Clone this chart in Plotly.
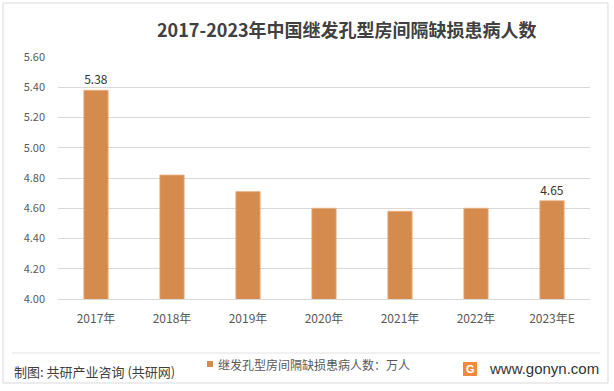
import plotly.graph_objects as go

categories = ["2017年", "2018年", "2019年", "2020年", "2021年", "2022年", "2023年E"]
values = [5.38, 4.82, 4.71, 4.60, 4.58, 4.60, 4.65]
label_text = ["5.38", "", "", "", "", "", "4.65"]
y_ticks = [4.00, 4.20, 4.40, 4.60, 4.80, 5.00, 5.20, 5.40, 5.60]

title = "2017-2023年中国继发孔型房间隔缺损患病人数"
legend_label = "继发孔型房间隔缺损患病人数：万人"
source_text = "制图: 共研产业咨询 (共研网)"
site_text = "www.gonyn.com"

W, H = 614, 391
L, R, T, B = 58, 590, 57, 299
pw, ph = R - L, B - T


def px(x):
    return (x - L) / pw


def py(y):
    return (B - y) / ph


font_family = "Microsoft YaHei, Noto Sans CJK SC, sans-serif"
bar_color = "#D58B4E"

fig = go.Figure()
fig.add_trace(go.Bar(
    x=categories, y=values, width=0.32,
    marker=dict(color=bar_color, line=dict(color="#E8B48A", width=0.8)),
    text=label_text, textposition="outside", cliponaxis=False,
    textfont=dict(size=12, color="#333333", family=font_family),
    showlegend=False,
))

shapes = [
    # outer frame
    dict(type="rect", xref="paper", yref="paper", x0=px(3), x1=px(608), y0=py(3), y1=py(383),
         line=dict(color="#D9D9D9", width=1), layer="below"),
    # separator line
    dict(type="line", xref="paper", yref="paper", x0=px(12), x1=px(600), y0=py(353), y1=py(353),
         line=dict(color="#E3E3E3", width=1)),
    # legend marker
    dict(type="rect", xref="paper", yref="paper", x0=px(207), x1=px(213), y0=py(361), y1=py(367),
         fillcolor=bar_color, line=dict(width=0)),
    # logo
    dict(type="rect", xref="paper", yref="paper", x0=px(463), x1=px(477), y0=py(362), y1=py(376),
         fillcolor="#F08A3C", line=dict(width=0)),
]

annotations = [
    dict(text="<b>" + title + "</b>", xref="paper", yref="paper", x=px(347), y=py(29),
         xanchor="center", yanchor="middle", showarrow=False,
         font=dict(size=18, color="#404040", family=font_family)),
    dict(text=source_text, xref="paper", yref="paper", x=px(12), y=py(371),
         xanchor="left", yanchor="middle", showarrow=False,
         font=dict(size=13, color="#404040", family=font_family)),
    dict(text=legend_label, xref="paper", yref="paper", x=px(216), y=py(364),
         xanchor="left", yanchor="middle", showarrow=False,
         font=dict(size=12, color="#595959", family=font_family)),
    dict(text=site_text, xref="paper", yref="paper", x=px(487), y=py(368),
         xanchor="left", yanchor="middle", showarrow=False,
         font=dict(size=15, color="#333333", family="Arial, Liberation Sans, sans-serif")),
    dict(text="<b>G</b>", xref="paper", yref="paper", x=px(470), y=py(369),
         xanchor="center", yanchor="middle", showarrow=False,
         font=dict(size=11, color="#FFFFFF", family="Arial, Liberation Sans, sans-serif")),
]

fig.update_layout(
    width=W, height=H,
    margin=dict(l=L, r=W - R, t=T, b=H - B),
    paper_bgcolor="white", plot_bgcolor="white",
    bargap=0.68,
    shapes=shapes, annotations=annotations,
    font=dict(family=font_family, color="#595959"),
    xaxis=dict(
        showline=True, linecolor="#D9D9D9", linewidth=1,
        ticks="", tickfont=dict(size=12, color="#595959"),
        ticklabelstandoff=9,
        showgrid=False, fixedrange=True,
    ),
    yaxis=dict(
        range=[4.0, 5.6], tickvals=y_ticks, ticktext=[f"{v:.2f}" for v in y_ticks],
        showgrid=True, gridcolor="#D9D9D9", gridwidth=1,
        zeroline=False, showline=False, ticks="",
        tickfont=dict(size=11, color="#595959"), ticklabelstandoff=12,
        fixedrange=True,
    ),
)

fig.write_html("out.html")
